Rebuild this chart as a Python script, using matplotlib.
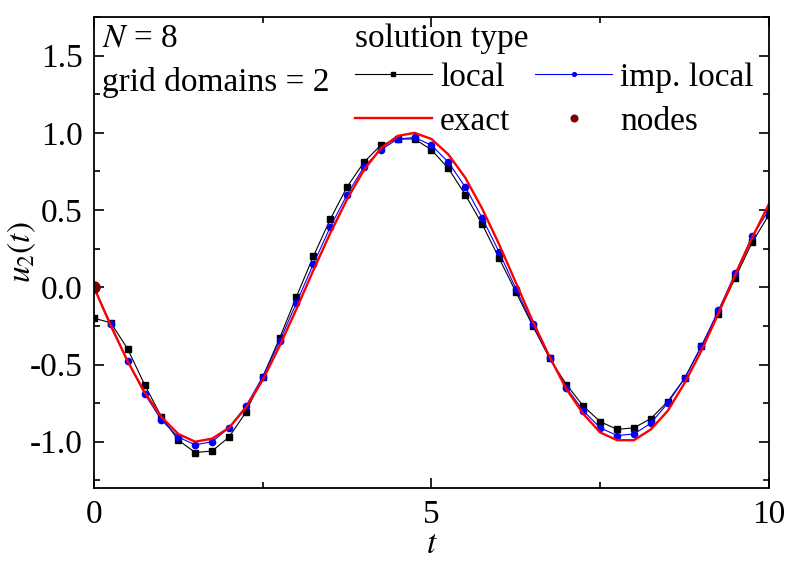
import numpy as np
import matplotlib.pyplot as plt

plt.rcParams['font.family'] = ['Liberation Serif', 'DejaVu Serif']
plt.rcParams['mathtext.fontset'] = 'stix'
plt.rcParams['axes.unicode_minus'] = False
plt.rcParams['font.size'] = 24

# time grid, step 0.25
t = np.arange(0, 41) * 0.25

exact = [0.00, -0.25, -0.48, -0.68, -0.84, -0.95, -1.00, -0.98, -0.91, -0.78,
         -0.60, -0.38, -0.14, 0.11, 0.35, 0.57, 0.76, 0.90, 0.98, 1.00,
         0.96, 0.86, 0.71, 0.51, 0.28, 0.03, -0.22, -0.45, -0.66, -0.82,
         -0.94, -0.99, -0.99, -0.92, -0.80, -0.62, -0.41, -0.17, 0.08, 0.32,
         0.54]

local = [-0.20, -0.23, -0.40, -0.63, -0.84, -0.99, -1.07, -1.06, -0.97, -0.81,
         -0.58, -0.33, -0.06, 0.20, 0.44, 0.65, 0.81, 0.92, 0.96, 0.96,
         0.89, 0.77, 0.60, 0.41, 0.19, -0.03, -0.25, -0.46, -0.63, -0.77,
         -0.87, -0.92, -0.91, -0.85, -0.74, -0.59, -0.38, -0.17, 0.06, 0.29,
         0.47]

imp_local = [0.00, -0.24, -0.48, -0.69, -0.86, -0.97, -1.02, -1.00, -0.91, -0.77,
             -0.58, -0.35, -0.10, 0.15, 0.39, 0.60, 0.78, 0.89, 0.96, 0.97,
             0.92, 0.81, 0.65, 0.45, 0.23, -0.01, -0.24, -0.46, -0.65, -0.80,
             -0.91, -0.96, -0.95, -0.88, -0.75, -0.59, -0.38, -0.15, 0.09, 0.33,
             0.50]

node_t = [0.0]
node_u = [0.0]

fig = plt.figure(figsize=(7.93, 5.61), dpi=100)
ax = fig.add_axes([0.1185, 0.130, 0.8512, 0.8397])

l1, = ax.plot(t, local, color='black', lw=0.8, marker='s', ms=4, label='local')
l3, = ax.plot(t, imp_local, color='blue', lw=0.8, marker='o', ms=4.5, label='imp. local')
l2, = ax.plot(t, exact, color='red', lw=1.7, label='exact')
l4, = ax.plot(node_t, node_u, ls='none', marker='o', ms=8, color='#800000', label='nodes')

ax.set_xlim(0, 10)
ax.set_ylim(-1.3, 1.75)
ax.set_xticks([0, 5, 10])
ax.set_xticks([2.5, 7.5], minor=True)
ax.set_yticks([-1.0, -0.5, 0.0, 0.5, 1.0, 1.5])
ax.set_yticks(np.arange(-1.25, 1.76, 0.25), minor=True)
ax.set_yticklabels(['-1.0', '-0.5', '0.0', '0.5', '1.0', '1.5'])
ax.tick_params(which='both', direction='in', top=True, right=True, width=1.2)
ax.tick_params(which='major', length=7, pad=8)
ax.tick_params(which='minor', length=4)
for s in ax.spines.values():
    s.set_linewidth(1.3)

ax.set_xlabel('$t$', labelpad=0)
ax.set_ylabel('$u_2(t)$')
ax.yaxis.set_label_coords(-0.083, 0.5)

ax.text(0.012, 0.937, '$N$ = 8', transform=ax.transAxes, va='baseline', ha='left')
ax.text(0.012, 0.843, 'grid domains = 2', transform=ax.transAxes, va='baseline', ha='left')

leg = ax.legend([l1, l2, l3, l4], ['local', 'exact', 'imp. local', 'nodes'],
                ncol=2, title='solution type', frameon=False, alignment='left',
                loc='upper left', bbox_to_anchor=(0.362, 1.022), borderpad=0,
                handlelength=2.3, columnspacing=0.75, handletextpad=0.25,
                labelspacing=0.42, markerscale=0.6)
leg._legend_box.sep = 6

plt.savefig('out.png', dpi=100)
